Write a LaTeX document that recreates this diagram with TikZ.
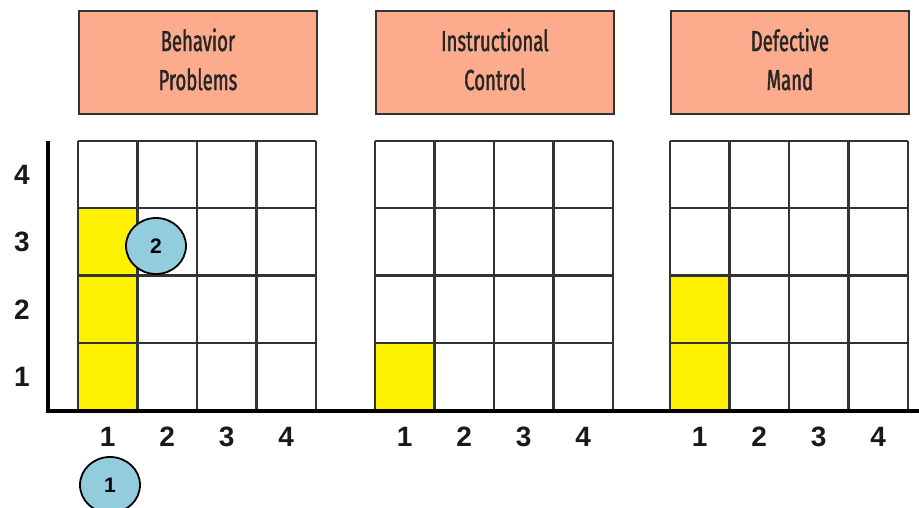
\documentclass[tikz,border=0pt]{standalone}
\usepackage{fontspec}
\setmainfont{Liberation Sans}
\newfontfamily\headfont[FakeStretch=0.64, FakeBold=1.3]{Fira Sans}
\usetikzlibrary{shapes.geometric}
\definecolor{salmon}{HTML}{FCAC8C}
\definecolor{cellyellow}{HTML}{FFF200}
\definecolor{bubblecol}{HTML}{93CDDD}
\tikzset{
  head/.style={draw=black!80, fill=salmon, line width=1.8pt, minimum width=238pt, minimum height=103pt},
  headtext/.style={inner sep=0pt, align=center, text=black!85, font=\headfont\fontsize{29}{39}\selectfont},
  bubble/.style={ellipse, draw, fill=bubblecol, line width=1.8pt, minimum width=60pt, minimum height=56pt,
    inner sep=0pt, font=\bfseries\fontsize{21}{21}\selectfont},
  num/.style={font=\bfseries\fontsize{28}{28}\selectfont, text=black!90}
}
\begin{document}
\begin{tikzpicture}[x=1pt, y=-1pt]
\useasboundingbox (0,0) rectangle (919,508);

% headers
\foreach \n/\x/\t in {hBehav/78/{Behavior\\Problems}, hInstr/375/{Instructional\\Control}, hMand/670/{Defective\\Mand}}
{
    \node[head, anchor=north west] (\n) at (\x,10) {};
    \node[headtext] (\n t) at ([yshift=3pt]\n.center) {\t};
}

% yellow cells
\fill[cellyellow] (78,141+67.25) rectangle (137.5,410);
\fill[cellyellow] (375,141+3*67.25) rectangle (434.5,410);
\fill[cellyellow] (670,141+2*67.25) rectangle (729.5,410);

% grids and x labels
\foreach \g/\x in {1/78, 2/375, 3/670}
{
    \foreach \i in {0,...,4}
    {
        \draw[line width=2.2pt, black!80] (\x+\i*59.5,141) -- ++(0,269);
        \draw[line width=2.2pt, black!80] (\x,141+\i*67.25) -- ++(238,0);
    }
    \foreach \i in {1,...,4}
        \node[num] (x\g\i) at (\x-29.75+\i*59.5,437) {\i};
}

% axes
\coordinate (origin) at (48,411);
\draw[line width=3.5pt] (48,141) -- (origin) -- (919,411);
\foreach \i in {1,...,4}
    \node[num] (y\i) at (22,444-67.25*\i) {\i};

\node[bubble] (b2) at (156,246) {2};
\node[bubble] (b1) at (110,485) {1};

\end{tikzpicture}
\end{document}
